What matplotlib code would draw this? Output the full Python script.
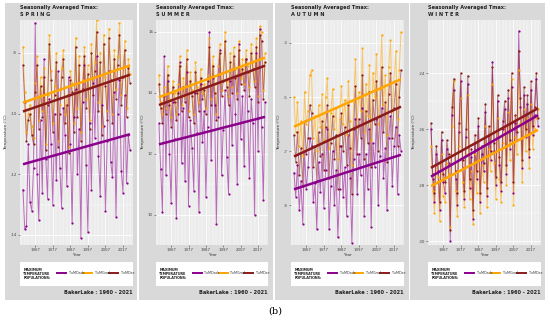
import numpy as np
import matplotlib
matplotlib.use("Agg")
import matplotlib.pyplot as plt
from matplotlib.lines import Line2D

# ─── Data ─────────────────────────────────────────────────────────────────────

years = list(range(1960, 2022))
xticks = [1967, 1977, 1987, 1997, 2007, 2017]
seasons = ["S P R I N G", "S U M M E R", "A U T U M N", "W I N T E R"]
series_names = ["TxMDads", "TxMGrad", "TxMDxe"]

spring_ticks = [-8, -10, -12, -14]
summer_ticks = [16, 14, 12, 10]
autumn_ticks = [-3, -5, -7, -9]
winter_ticks = [-24, -26, -28, -30]

spring_purple = [-12.5, -13.8, -13.7, -11.0, -12.9, -13.2, -11.8, -7.0, -12.0, -13.5,
                 -10.2, -12.6, -8.2, -11.5, -12.8, -9.5, -11.0, -13.0, -10.0, -12.2,
                 -8.6, -11.8, -13.1, -9.8, -10.7, -12.4, -8.8, -11.0, -13.6, -10.1,
                 -9.2, -12.0, -10.5, -14.1, -9.6, -8.4, -11.7, -13.9, -10.3, -12.5,
                 -9.0, -10.8, -8.1, -11.4, -12.7, -9.7, -10.4, -13.2, -10.9, -8.6,
                 -11.6, -12.1, -9.3, -13.4, -10.0, -8.9, -11.9, -12.6, -9.4, -12.3,
                 -10.7, -11.2]
spring_orange = [-7.8, -9.3, -10.6, -10.0, -9.7, -10.4, -10.8, -9.0, -8.1, -10.2,
                 -8.8, -9.9, -8.5, -11.0, -9.4, -7.4, -8.6, -10.3, -9.1, -8.0,
                 -10.9, -9.7, -8.5, -7.9, -10.0, -9.4, -11.1, -8.6, -9.0, -10.3,
                 -7.5, -9.8, -8.1, -10.6, -8.9, -7.8, -9.5, -8.4, -10.2, -7.7,
                 -9.1, -8.3, -6.9, -9.6, -8.0, -10.4, -7.4, -8.8, -9.9, -7.2,
                 -8.6, -10.0, -7.9, -9.2, -8.1, -7.0, -9.4, -8.5, -7.6, -9.8,
                 -8.2, -8.7]
spring_darkred = [-8.4, -9.6, -10.9, -10.2, -10.0, -10.7, -11.0, -9.3, -8.4, -10.5,
                  -9.1, -10.1, -8.8, -11.2, -9.7, -7.7, -8.9, -10.6, -9.4, -8.3,
                  -11.1, -10.0, -8.8, -8.2, -10.3, -9.7, -11.3, -8.9, -9.3, -10.6,
                  -7.8, -10.1, -8.4, -10.9, -9.2, -8.1, -9.8, -8.7, -10.5, -8.0,
                  -9.4, -8.6, -7.3, -9.9, -8.3, -10.7, -7.7, -9.1, -10.2, -7.5,
                  -8.9, -10.3, -8.2, -9.5, -8.4, -7.4, -9.7, -8.8, -7.9, -10.1,
                  -8.5, -9.0]

summer_purple = [13.0, 11.5, 10.1, 15.2, 11.3, 14.4, 12.0, 10.4, 13.7, 12.5,
                 9.9, 13.3, 15.0, 11.7, 13.5, 11.1, 14.7, 10.3, 13.1, 12.2,
                 10.8, 14.0, 12.7, 10.1, 14.3, 12.4, 13.4, 10.6, 12.9, 16.0,
                 11.8, 14.5, 13.6, 9.7, 13.2, 15.4, 11.3, 12.8, 14.1, 11.9,
                 10.7, 14.4, 12.3, 14.8, 13.3, 11.0, 15.6, 12.5, 13.9, 11.6,
                 15.1, 13.4, 11.2, 13.8, 13.0, 10.0, 15.3, 12.1, 16.1, 12.9,
                 10.5, 13.7]
summer_orange = [14.6, 13.7, 13.3, 14.2, 13.5, 14.9, 13.8, 13.2, 14.4, 14.0,
                 13.3, 14.3, 15.2, 13.6, 14.5, 13.9, 15.4, 13.4, 14.7, 14.1,
                 13.3, 15.0, 14.2, 13.7, 14.8, 14.0, 14.3, 13.5, 14.6, 15.8,
                 13.8, 15.2, 14.3, 13.3, 14.9, 15.6, 14.1, 14.7, 16.0, 14.4,
                 13.9, 15.3, 14.2, 15.5, 14.8, 14.0, 15.7, 14.5, 15.1, 14.3,
                 15.4, 14.9, 14.2, 15.6, 15.0, 14.4, 15.8, 13.9, 16.2, 16.0,
                 14.1, 15.3]
summer_darkred = [14.3, 13.5, 13.0, 13.9, 13.3, 14.6, 13.6, 12.9, 14.2, 13.7,
                  13.1, 14.0, 14.9, 13.4, 14.2, 13.7, 15.1, 13.2, 14.4, 13.9,
                  13.0, 14.7, 14.0, 13.4, 14.5, 13.8, 14.1, 13.3, 14.4, 15.5,
                  13.6, 14.9, 14.0, 13.1, 14.6, 15.3, 13.9, 14.4, 15.7, 14.2,
                  13.6, 15.0, 14.0, 15.2, 14.5, 13.8, 15.4, 14.3, 14.8, 14.1,
                  15.1, 14.7, 13.9, 15.3, 14.8, 14.2, 15.5, 13.7, 15.9, 15.7,
                  13.8, 15.0]

autumn_purple = [-7.8, -8.7, -7.5, -9.2, -8.1, -9.7, -7.0, -8.4, -7.6, -6.5,
                 -6.8, -8.9, -8.2, -9.9, -7.4, -8.5, -7.1, -9.1, -7.7, -6.2,
                 -9.9, -8.3, -7.0, -9.0, -7.7, -10.2, -8.4, -6.8, -8.7, -7.6,
                 -9.4, -6.4, -8.0, -10.4, -7.3, -5.8, -8.6, -7.1, -7.9, -5.4,
                 -9.4, -7.1, -8.4, -6.2, -9.8, -6.7, -7.6, -5.8, -9.0, -7.2,
                 -5.4, -8.0, -6.9, -9.2, -6.5, -5.7, -8.3, -6.8, -6.1, -8.6,
                 -6.4, -7.0]
autumn_orange = [-5.0, -6.3, -5.2, -6.8, -5.9, -7.2, -4.8, -6.0, -5.5, -4.2,
                 -4.0, -6.5, -5.7, -7.0, -5.3, -6.1, -4.9, -6.6, -5.0, -4.3,
                 -6.9, -5.6, -4.7, -6.2, -5.4, -7.3, -5.8, -4.6, -6.0, -5.1,
                 -6.4, -4.4, -5.9, -7.5, -5.2, -3.6, -6.1, -4.8, -5.5, -3.2,
                 -6.3, -4.5, -5.7, -3.8, -6.6, -4.1, -5.0, -3.4, -6.0, -4.7,
                 -2.7, -5.3, -4.2, -6.4, -3.9, -2.9, -5.5, -4.4, -3.3, -5.8,
                 -4.0, -2.6]
autumn_darkred = [-6.4, -7.4, -6.3, -7.9, -6.9, -8.3, -5.9, -7.1, -6.5, -5.3,
                  -5.6, -7.6, -6.8, -8.1, -6.3, -7.2, -5.9, -7.7, -6.1, -5.3,
                  -8.0, -6.7, -5.7, -7.3, -6.4, -8.4, -6.8, -5.6, -7.0, -6.1,
                  -7.5, -5.3, -6.9, -8.6, -6.2, -4.6, -7.1, -5.8, -6.5, -4.2,
                  -7.3, -5.5, -6.7, -4.8, -7.6, -5.1, -6.0, -4.4, -7.0, -5.7,
                  -3.9, -6.3, -5.2, -7.4, -4.9, -4.1, -6.5, -5.4, -4.5, -6.8,
                  -5.0, -4.0]

winter_purple = [-26.0, -27.8, -28.6, -26.9, -27.5, -28.9, -26.4, -27.9, -28.3, -26.7,
                 -27.2, -30.0, -25.5, -24.6, -27.8, -28.7, -26.1, -24.3, -27.4, -28.5,
                 -26.3, -24.4, -28.1, -27.0, -29.2, -26.5, -27.8, -25.9, -28.6, -26.9,
                 -27.5, -25.4, -28.4, -26.2, -27.1, -23.6, -26.8, -28.0, -25.0, -27.3,
                 -28.2, -26.0, -25.3, -27.6, -24.9, -26.7, -24.5, -28.3, -25.8, -26.4,
                 -22.5, -25.2, -27.4, -24.8, -26.3, -25.1, -27.0, -24.6, -26.2, -25.5,
                 -24.2, -25.9]
winter_orange = [-26.6, -28.2, -29.0, -27.3, -27.7, -29.3, -26.9, -28.4, -28.6, -27.2,
                 -27.6, -29.5, -25.9, -24.3, -28.2, -29.1, -26.6, -24.9, -27.9, -28.8,
                 -26.9, -24.8, -28.5, -27.5, -29.4, -26.9, -28.3, -26.4, -29.0, -27.3,
                 -27.9, -25.9, -28.8, -26.7, -27.5, -24.4, -27.2, -28.5, -25.6, -27.8,
                 -28.6, -26.5, -25.9, -28.0, -25.4, -27.1, -24.2, -28.7, -26.3, -26.9,
                 -23.9, -25.8, -27.9, -25.3, -26.8, -25.6, -27.4, -25.1, -26.7, -26.0,
                 -25.6, -25.3]
winter_darkred = [-25.8, -27.6, -28.3, -26.6, -27.2, -28.6, -26.1, -27.6, -27.9, -26.4,
                  -26.9, -29.6, -25.2, -24.2, -27.5, -28.3, -25.8, -24.0, -27.1, -28.2,
                  -26.0, -24.1, -27.8, -26.7, -28.9, -26.2, -27.5, -25.6, -28.3, -26.6,
                  -27.2, -25.1, -28.1, -25.9, -26.8, -23.8, -26.5, -27.7, -24.8, -27.0,
                  -27.9, -25.7, -25.0, -27.3, -24.6, -26.4, -24.0, -27.9, -25.5, -26.1,
                  -23.2, -24.9, -27.1, -24.5, -26.0, -24.8, -26.7, -24.3, -25.9, -25.2,
                  -24.0, -25.6]

# ─── Layout (pixels of a 550x320 canvas) ─────────────────────────────────────

W, H = 550, 320
COLORS = ["#8b008b", "#ffa500", "#8b1a1a"]
PANEL_BG = "#d9d9d9"
PLOT_BG = "#ebebeb"

panels = [
    dict(outer=(5, 137), plot=(20, 133), ticks=spring_ticks, tick_px=(53, 235),
         data=[spring_purple, spring_orange, spring_darkred]),
    dict(outer=(139, 273), plot=(156, 268), ticks=summer_ticks, tick_px=(32, 215),
         data=[summer_purple, summer_orange, summer_darkred]),
    dict(outer=(275, 409), plot=(291, 404), ticks=autumn_ticks, tick_px=(43, 205),
         data=[autumn_purple, autumn_orange, autumn_darkred]),
    dict(outer=(410, 545), plot=(428, 541), ticks=winter_ticks, tick_px=(73, 241),
         data=[winter_purple, winter_orange, winter_darkred]),
]
PLOT_TOP, PLOT_BOT = 20, 245


def fig_box(x0, x1, y0, y1):
    return [x0 / W, 1 - y1 / H, (x1 - x0) / W, (y1 - y0) / H]


def blank(ax, color):
    ax.set_facecolor(color)
    ax.set_xticks([])
    ax.set_yticks([])
    for s in ax.spines.values():
        s.set_visible(False)


fig = plt.figure(figsize=(5.5, 3.2), dpi=100, facecolor="white")

for i, p in enumerate(panels):
    ox0, ox1 = p["outer"]
    px0, px1 = p["plot"]
    # gray outer panel as a background axes
    bg = fig.add_axes(fig_box(ox0, ox1, 3, 300), zorder=-5)
    blank(bg, PANEL_BG)

    # y-limits from tick pixel positions
    t = p["ticks"]
    tp0, tp1 = p["tick_px"]
    upp = (t[0] - t[-1]) / (tp1 - tp0)
    ytop = t[0] + (tp0 - PLOT_TOP) * upp
    ybot = t[-1] - (PLOT_BOT - tp1) * upp

    ax = fig.add_axes(fig_box(px0, px1, PLOT_TOP, PLOT_BOT))
    ax.set_facecolor(PLOT_BG)
    ax.set_xlim(1958.3, 2022.7)
    ax.set_ylim(ybot, ytop)
    ax.set_xticks(xticks)
    ax.set_xticks(range(1959, 2023, 2), minor=True)
    ax.set_yticks(t)
    ax.set_yticks([(a + b) / 2 for a, b in zip(t[:-1], t[1:])], minor=True)
    ax.set_xticklabels([str(x) for x in xticks], fontsize=2.8, color="#444")
    ax.set_yticklabels([f"{v}" for v in t], fontsize=2.8, color="#444")
    ax.tick_params(length=1.2, width=0.4, colors="#444", pad=1)
    ax.tick_params(which="minor", length=0)
    ax.grid(True, which="major", color="white", lw=0.6)
    ax.grid(True, which="minor", color="white", lw=0.3)
    for s in ax.spines.values():
        s.set_visible(False)
    ax.set_axisbelow(True)
    ax.set_xlabel("Year", fontsize=3, labelpad=1, color="#333")
    ax.set_ylabel("Temperature (°C)", fontsize=3, labelpad=2, color="#333")

    yrs = np.array(years)
    for vals, c in zip(p["data"], COLORS):
        ax.plot(yrs, vals, color=c, lw=0.7, alpha=0.55, zorder=2)
        ax.plot(yrs, vals, "o", color=c, ms=1.6, mew=0, zorder=3)
    for vals, c in zip(p["data"], COLORS):
        k, b = np.polyfit(yrs, vals, 1)
        ax.plot(yrs, k * yrs + b, color=c, lw=1.8, solid_capstyle="butt", zorder=4)

    # titles
    fig.text(px0 / W, 1 - 8 / H, "Seasonally Averaged Tmax:", fontsize=3.6,
             fontweight="bold", color="#222", va="center")
    fig.text(px0 / W, 1 - 14 / H, seasons[i], fontsize=3.6, fontweight="bold",
             color="#222", va="center")

    # legend box
    lax = fig.add_axes(fig_box(px0, px1, 262, 286))
    blank(lax, "white")
    lax.set_xlim(0, 1)
    lax.set_ylim(0, 1)
    lax.text(0.03, 0.5, "MAXIMUM\nTEMPERATURE\nPOPULATIONS:", fontsize=2.4,
             fontweight="bold", color="#222", va="center", linespacing=1.1)
    for j, (name, c) in enumerate(zip(series_names, COLORS)):
        x0 = 0.33 + j * 0.23
        lax.add_line(Line2D([x0, x0 + 0.08], [0.55, 0.55], color=c, lw=1.4))
        lax.text(x0 + 0.10, 0.55, name, fontsize=2.4, color="#333", va="center")

    fig.text(px1 / W, 1 - 293 / H, "BakerLake : 1960 - 2021", fontsize=3.6,
             fontweight="bold", color="#222", ha="right", va="center")

fig.text(275 / W, 1 - 311 / H, "(b)", fontsize=7, family="DejaVu Serif",
         ha="center", va="center")

fig.savefig("out.png", dpi=100, facecolor="white")
